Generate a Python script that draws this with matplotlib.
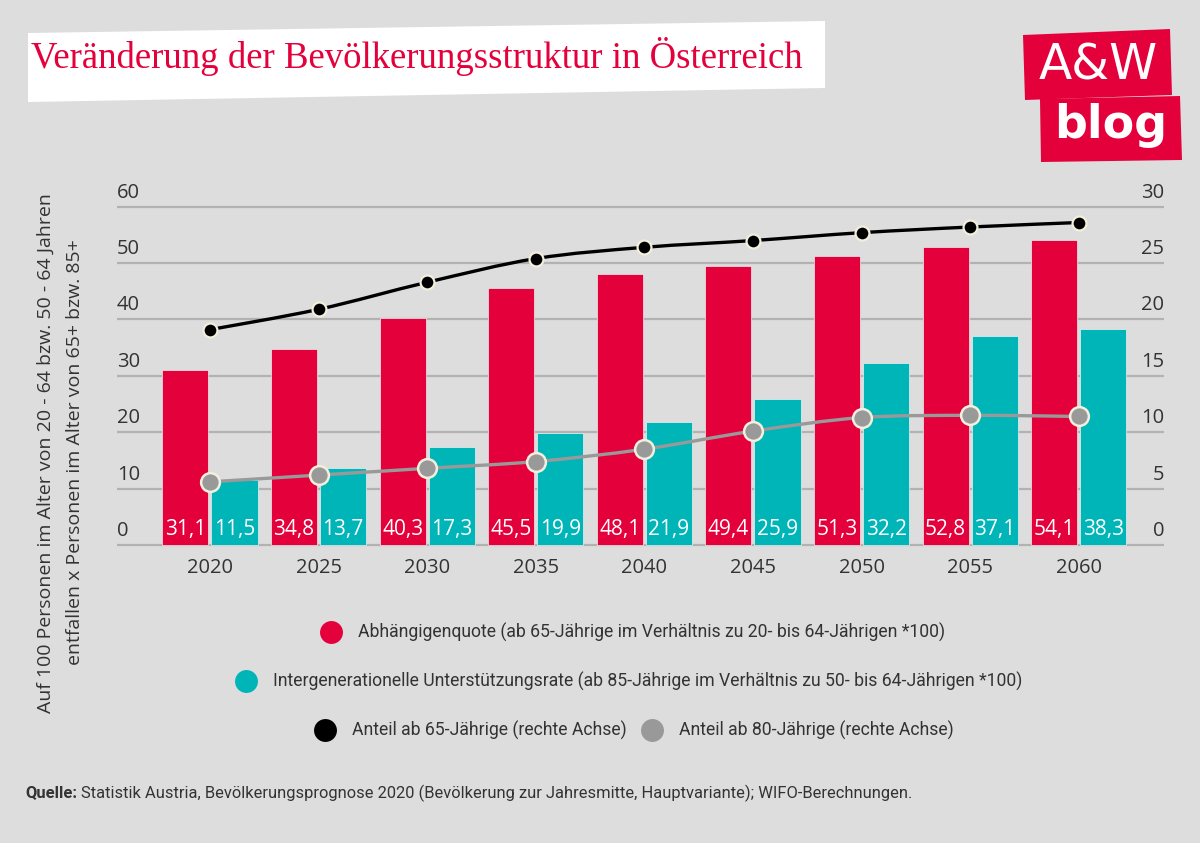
import numpy as np
import matplotlib
matplotlib.use("Agg")
import matplotlib.pyplot as plt
from matplotlib.path import Path
from matplotlib.patches import PathPatch, Polygon

# Daten
jahre = ["2020", "2025", "2030", "2035", "2040", "2045", "2050", "2055", "2060"]
abhaengigenquote = [31.1, 34.8, 40.3, 45.5, 48.1, 49.4, 51.3, 52.8, 54.1]
unterstuetzungsrate = [11.5, 13.7, 17.3, 19.9, 21.9, 25.9, 32.2, 37.1, 38.3]
anteil_65 = [19.1, 20.9, 23.3, 25.4, 26.4, 27.0, 27.7, 28.2, 28.6]
anteil_80 = [5.6, 6.2, 6.8, 7.4, 8.5, 10.1, 11.3, 11.5, 11.4]
links_ticks = [0, 10, 20, 30, 40, 50, 60]
rechts_ticks = [0, 5, 10, 15, 20, 25, 30]

ROT = "#E4003A"
TUERKIS = "#00B5B8"
GRAU = "#999999"
HG = "#DDDDDD"
CREME = "#F2EFDC"
TXT = "#333333"

SANS = "Open Sans"
SCHMAL = "Roboto"
plt.rcParams["font.family"] = [SANS, "DejaVu Sans"]

W, H = 1200, 843
fig = plt.figure(figsize=(W / 100, H / 100), dpi=100, facecolor=HG)


def px_ax(x0, y_top, x1, y_bot):
    return [x0 / W, 1 - y_bot / H, (x1 - x0) / W, (y_bot - y_top) / H]


# Hauptachse: y=0 bei 545 px, 5.638 px pro Einheit
ax = fig.add_axes(px_ax(117, 545 - 62 * 5.638, 1164, 545 + 1 * 5.638))
ax.set_facecolor(HG)
ax.set_ylim(-1, 62)
x = np.arange(len(jahre))
ax.set_xlim(-0.856, 8.785)
for s in ax.spines.values():
    s.set_visible(False)
ax.set_xticks([])
ax.set_yticks([])

for v in links_ticks:
    ax.axhline(v, color="#B2B2B2", lw=1.6, zorder=0)
    ax.text(0.0, v + 2.5, str(v), transform=ax.get_yaxis_transform(), ha="left",
            va="center", fontsize=14.5, color=TXT)

b = 0.424
d = 0.226
ax.bar(x - d, abhaengigenquote, width=b, color=ROT, edgecolor="#EFEFEF", linewidth=0.5, zorder=2)
ax.bar(x + d, unterstuetzungsrate, width=b, color=TUERKIS, edgecolor="#EFEFEF", linewidth=0.5, zorder=2)

for i in range(len(jahre)):
    ax.text(x[i] - d, 2.7, f"{abhaengigenquote[i]:.1f}".replace(".", ","), ha="center",
            va="center", color="white", fontsize=15, zorder=3)
    ax.text(x[i] + d, 2.7, f"{unterstuetzungsrate[i]:.1f}".replace(".", ","), ha="center",
            va="center", color="white", fontsize=15, zorder=3)
    ax.text(x[i], -4.1, jahre[i], ha="center", va="center", fontsize=14.5, color=TXT, clip_on=False)

ax2 = ax.twinx()
ax2.set_ylim(-0.5, 31)
for s in ax2.spines.values():
    s.set_visible(False)
ax2.set_yticks([])
for v in rechts_ticks:
    ax2.text(1.0, v + 1.25, str(v), transform=ax2.get_yaxis_transform(), ha="right",
             va="center", fontsize=14.5, color=TXT)


def glatte_linie(xs, ys, t=1.0):
    p = np.column_stack([xs, ys]).astype(float)
    pts = [p[0]]
    codes = [Path.MOVETO]
    n = len(p)
    for i in range(n - 1):
        p0 = p[max(i - 1, 0)]
        p3 = p[min(i + 2, n - 1)]
        c1 = p[i] + (p[i + 1] - p0) / 6 * t
        c2 = p[i + 1] - (p3 - p[i]) / 6 * t
        pts += [c1, c2, p[i + 1]]
        codes += [Path.CURVE4] * 3
    return Path(pts, codes)


ax2.add_patch(PathPatch(glatte_linie(x, anteil_65), fill=False, color="black", lw=2.4, zorder=4))
ax2.add_patch(PathPatch(glatte_linie(x, anteil_80), fill=False, color=GRAU, lw=2.4, zorder=4))
ax2.plot(x, anteil_65, ls="none", marker="o", ms=10, mfc="black", mec=CREME, mew=1.6, zorder=5)
ax2.plot(x, anteil_80, ls="none", marker="o", ms=13.5, mfc=GRAU, mec=CREME, mew=1.8, zorder=5)

# Deko-Ebene in Pixelkoordinaten
deko = fig.add_axes([0, 0, 1, 1], zorder=-1)
deko.set_xlim(0, W)
deko.set_ylim(H, 0)
deko.axis("off")

deko.add_patch(Polygon([(28, 33), (825, 21), (825, 88), (28, 102)], closed=True, color="white", lw=0))
deko.text(31, 56, "Veränderung der Bevölkerungsstruktur in Österreich", color=ROT, fontsize=26.5,
          family="Liberation Serif", ha="left", va="center")

deko.add_patch(Polygon([(1023, 35), (1170, 29), (1172, 95), (1025, 100)], closed=True, color=ROT, lw=0))
deko.add_patch(Polygon([(1040, 99), (1180, 96), (1182, 160), (1041, 162)], closed=True, color=ROT, lw=0))
deko.text(1098, 66, "A&W", color="white", fontsize=35, family="DejaVu Sans", ha="center", va="center")
deko.text(1111, 126, "blog", color="white", fontsize=33, family="DejaVu Sans", weight="bold",
          ha="center", va="center")

deko.text(46, 453, "Auf 100 Personen im Alter von 20 - 64 bzw. 50 - 64 Jahren", rotation=90,
          ha="center", va="center", fontsize=14, color=TXT)
deko.text(75, 452, "entfallen x Personen im Alter von 65+ bzw. 85+", rotation=90,
          ha="center", va="center", fontsize=14, color=TXT)

leg = [
    (331, 358, 632, ROT, "Abhängigenquote (ab 65-Jährige im Verhältnis zu 20- bis 64-Jährigen *100)"),
    (246, 273, 681, TUERKIS, "Intergenerationelle Unterstützungsrate (ab 85-Jährige im Verhältnis zu 50- bis 64-Jährigen *100)"),
    (325, 352, 730, "black", "Anteil ab 65-Jährige (rechte Achse)"),
    (652, 679, 730, GRAU, "Anteil ab 80-Jährige (rechte Achse)"),
]
for mx, tx, y, c, lab in leg:
    deko.plot([mx], [y], marker="o", ms=16.5, color=c, mec="none")
    deko.text(tx, y, lab, ha="left", va="center", fontsize=12.7, family=SCHMAL, color=TXT)

q = deko.text(25, 793, "Quelle:", ha="left", va="center", fontsize=11.9, family=SCHMAL,
              weight="bold", color=TXT)
deko.annotate("Statistik Austria, Bevölkerungsprognose 2020 (Bevölkerung zur Jahresmitte, Hauptvariante); WIFO-Berechnungen.",
              xy=(1, 0.5), xycoords=q, xytext=(3, 0), textcoords="offset points",
              ha="left", va="center", fontsize=11.9, family=SCHMAL, color=TXT)

fig.savefig("out.png", dpi=100, facecolor=HG)
